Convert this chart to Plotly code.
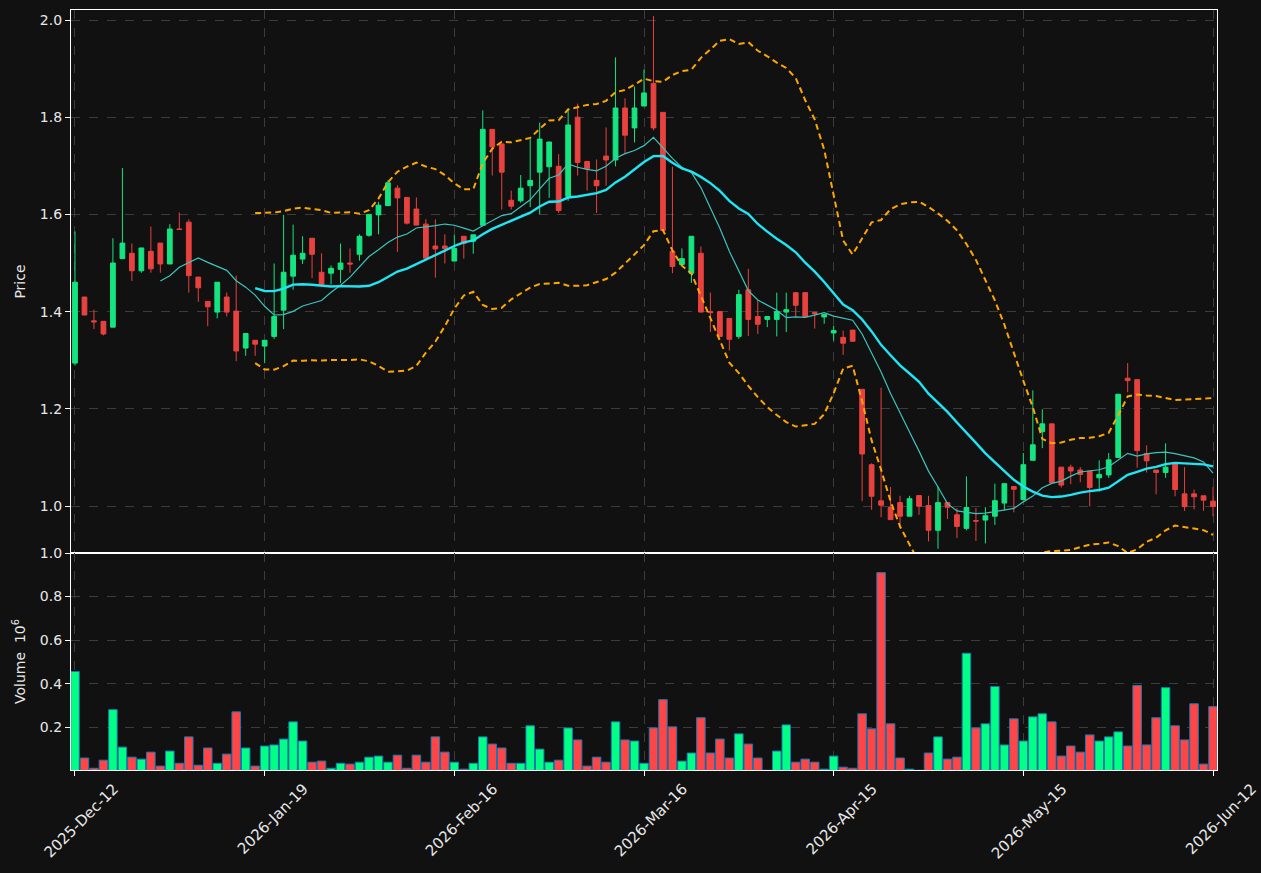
import pandas as pd
import plotly.graph_objects as go
from plotly.subplots import make_subplots

tick_labels = ["2025-Dec-12", "2026-Jan-19", "2026-Feb-16", "2026-Mar-16",
               "2026-Apr-15", "2026-May-15", "2026-Jun-12"]
tick_positions = [0, 20, 40, 60, 80, 100, 120]

opens = [1.294, 1.430, 1.381, 1.380, 1.368, 1.509, 1.520, 1.484, 1.524, 1.541,
         1.498, 1.570, 1.584, 1.471, 1.421, 1.399, 1.430, 1.401, 1.325, 1.341,
         1.329, 1.349, 1.403, 1.473, 1.508, 1.551, 1.481, 1.479, 1.487, 1.500,
         1.518, 1.557, 1.599, 1.618, 1.654, 1.635, 1.611, 1.580, 1.535, 1.535,
         1.504, 1.555, 1.545, 1.5775, 1.775, 1.745, 1.629, 1.628, 1.659, 1.687,
         1.698, 1.699, 1.637, 1.800, 1.709, 1.670, 1.720, 1.712, 1.819, 1.778,
         1.823, 1.8695, 1.810, 1.524, 1.497, 1.479, 1.520, 1.400, 1.400, 1.386,
         1.349, 1.445, 1.390, 1.384, 1.384, 1.399, 1.439, 1.439, 1.398, 1.389,
         1.356, 1.347, 1.362, 1.240, 1.085, 1.0106, 0.997, 1.007, 0.979, 1.0215,
         1.001, 0.950, 1.007, 0.982, 0.954, 0.970, 0.971, 0.979, 1.006, 1.040,
         1.013, 1.094, 1.153, 1.169, 1.080, 1.080, 1.074, 1.072, 1.058, 1.064,
         1.100, 1.263, 1.260, 1.108, 1.074, 1.069, 1.088, 1.025, 1.025, 1.021,
         1.010]
highs = [1.565, 1.430, 1.404, 1.380, 1.551, 1.6955, 1.540, 1.531, 1.575, 1.541,
         1.580, 1.604, 1.590, 1.471, 1.421, 1.4605, 1.439, 1.474, 1.355, 1.341,
         1.341, 1.499, 1.599, 1.579, 1.555, 1.551, 1.520, 1.495, 1.540, 1.530,
         1.559, 1.600, 1.626, 1.670, 1.660, 1.635, 1.635, 1.590, 1.590, 1.559,
         1.558, 1.555, 1.558, 1.814, 1.775, 1.745, 1.649, 1.681, 1.755, 1.789,
         1.749, 1.724, 1.818, 1.828, 1.709, 1.713, 1.779, 1.923, 1.839, 1.863,
         1.898, 2.008, 1.810, 1.698, 1.530, 1.555, 1.534, 1.439, 1.400, 1.386,
         1.445, 1.488, 1.424, 1.390, 1.439, 1.439, 1.439, 1.439, 1.400, 1.394,
         1.371, 1.361, 1.362, 1.240, 1.088, 1.2435, 1.039, 1.021, 1.021, 1.0215,
         1.021, 1.040, 1.007, 0.9955, 1.061, 0.996, 0.9975, 1.046, 1.046, 1.040,
         1.109, 1.238, 1.199, 1.169, 1.080, 1.085, 1.080, 1.072, 1.094, 1.109,
         1.230, 1.294, 1.260, 1.125, 1.074, 1.129, 1.088, 1.080, 1.034, 1.021,
         1.039]
lows = [1.289, 1.393, 1.364, 1.351, 1.368, 1.509, 1.463, 1.480, 1.480, 1.480,
        1.498, 1.568, 1.439, 1.420, 1.370, 1.386, 1.390, 1.298, 1.309, 1.309,
        1.294, 1.344, 1.364, 1.445, 1.498, 1.469, 1.456, 1.456, 1.459, 1.480,
        1.505, 1.554, 1.559, 1.618, 1.523, 1.579, 1.578, 1.510, 1.470, 1.499,
        1.504, 1.509, 1.519, 1.5775, 1.680, 1.610, 1.610, 1.624, 1.615, 1.600,
        1.634, 1.603, 1.628, 1.680, 1.649, 1.603, 1.659, 1.699, 1.724, 1.748,
        1.823, 1.773, 1.567, 1.479, 1.497, 1.459, 1.399, 1.358, 1.349, 1.320,
        1.344, 1.350, 1.354, 1.368, 1.349, 1.358, 1.390, 1.390, 1.365, 1.375,
        1.340, 1.311, 1.339, 1.010, 0.992, 0.977, 0.972, 0.954, 0.979, 0.982,
        0.927, 0.912, 0.973, 0.934, 0.950, 0.928, 0.923, 0.961, 0.991, 0.987,
        1.013, 1.094, 1.119, 1.048, 1.038, 1.045, 1.049, 0.999, 1.030, 1.058,
        1.100, 1.234, 1.079, 1.069, 1.024, 1.058, 1.020, 0.990, 0.993, 0.990,
        0.979]
closes = [1.4605, 1.393, 1.379, 1.354, 1.500, 1.541, 1.484, 1.531, 1.488, 1.498,
          1.570, 1.569, 1.474, 1.449, 1.410, 1.4605, 1.399, 1.319, 1.355, 1.333,
          1.341, 1.390, 1.481, 1.516, 1.520, 1.518, 1.456, 1.489, 1.500, 1.498,
          1.555, 1.600, 1.619, 1.665, 1.634, 1.582, 1.578, 1.510, 1.529, 1.530,
          1.530, 1.540, 1.558, 1.775, 1.739, 1.687, 1.617, 1.654, 1.670, 1.755,
          1.749, 1.608, 1.784, 1.707, 1.694, 1.659, 1.712, 1.819, 1.763, 1.819,
          1.850, 1.778, 1.567, 1.493, 1.509, 1.555, 1.399, 1.398, 1.349, 1.343,
          1.435, 1.384, 1.374, 1.390, 1.400, 1.404, 1.413, 1.390, 1.396, 1.394,
          1.361, 1.335, 1.339, 1.107, 1.020, 1.0016, 0.972, 0.979, 1.015, 0.9996,
          0.950, 1.007, 0.9975, 0.958, 0.997, 0.969, 0.980, 1.011, 1.046, 1.0345,
          1.085, 1.126, 1.169, 1.048, 1.043, 1.072, 1.065, 1.038, 1.065, 1.095,
          1.230, 1.258, 1.114, 1.093, 1.069, 1.080, 1.034, 0.9987, 1.019, 1.012,
          0.999]
volumes = [0.456, 0.059, 0.012, 0.049, 0.281, 0.109, 0.063, 0.054, 0.086, 0.022,
           0.091, 0.035, 0.156, 0.026, 0.105, 0.035, 0.077, 0.271, 0.105, 0.022,
           0.114, 0.119, 0.146, 0.225, 0.137, 0.040, 0.045, 0.012, 0.035, 0.031,
           0.040, 0.063, 0.068, 0.040, 0.072, 0.012, 0.072, 0.040, 0.156, 0.086,
           0.040, 0.008, 0.035, 0.156, 0.123, 0.105, 0.035, 0.035, 0.207, 0.100,
           0.040, 0.049, 0.197, 0.142, 0.022, 0.063, 0.040, 0.225, 0.142, 0.137,
           0.035, 0.197, 0.327, 0.202, 0.045, 0.082, 0.244, 0.082, 0.146, 0.059,
           0.170, 0.123, 0.059, 0.003, 0.091, 0.211, 0.040, 0.054, 0.040, 0.008,
           0.068, 0.017, 0.012, 0.262, 0.193, 0.910, 0.216, 0.059, 0.008, 0.003,
           0.082, 0.156, 0.054, 0.063, 0.540, 0.197, 0.216, 0.387, 0.119, 0.239,
           0.137, 0.248, 0.262, 0.225, 0.068, 0.114, 0.086, 0.165, 0.137, 0.156,
           0.179, 0.114, 0.392, 0.119, 0.244, 0.382, 0.207, 0.142, 0.308, 0.031,
           0.295]

idx = list(range(len(closes)))

UP_C = "#14e580"
DN_C = "#e8423f"
UP_V = "#00ff85"
DN_V = "#ff4545"

close_s = pd.Series(closes)
ma10 = close_s.rolling(10).mean()
ma20 = close_s.rolling(20).mean()
sd20 = close_s.rolling(20).std()
bb_up = ma20 + 2 * sd20
bb_dn = ma20 - 2 * sd20

vol_colors = [UP_V if c >= o else DN_V for o, c in zip(opens, closes)]

fig = make_subplots(rows=2, cols=1, shared_xaxes=True, vertical_spacing=0,
                    row_heights=[543 / 760, 217 / 760])

fig.add_trace(go.Candlestick(
    x=idx, open=opens, high=highs, low=lows, close=closes,
    increasing=dict(line=dict(color=UP_C, width=1), fillcolor=UP_C),
    decreasing=dict(line=dict(color=DN_C, width=1), fillcolor=DN_C),
    whiskerwidth=0, showlegend=False, hoverinfo="skip"), row=1, col=1)

fig.add_trace(go.Scatter(x=idx, y=bb_up, mode="lines",
                         line=dict(color="#ffa500", width=2, dash="6px,4px"),
                         showlegend=False), row=1, col=1)
fig.add_trace(go.Scatter(x=idx, y=bb_dn, mode="lines",
                         line=dict(color="#ffa500", width=2, dash="6px,4px"),
                         showlegend=False), row=1, col=1)
fig.add_trace(go.Scatter(x=idx, y=ma10, mode="lines",
                         line=dict(color="#3cc4bc", width=1.2),
                         showlegend=False), row=1, col=1)
fig.add_trace(go.Scatter(x=idx, y=ma20, mode="lines",
                         line=dict(color="#1fe6f5", width=2.4),
                         showlegend=False), row=1, col=1)

fig.add_trace(go.Bar(x=idx, y=volumes, width=0.9,
                     marker=dict(color=vol_colors, line=dict(color="#1f77b4", width=1)),
                     showlegend=False), row=2, col=1)

FONT = dict(family="DejaVu Sans", size=14, color="#e8e8e8")
XFONT = dict(family="DejaVu Sans", size=15, color="#e8e8e8")
GRID = "#3c3c3c"

axis_common = dict(showline=True, linecolor="white", linewidth=1.3, mirror=True,
                   showgrid=True, gridcolor=GRID, griddash="dash", gridwidth=1,
                   zeroline=False)

fig.update_xaxes(range=[-0.42, 120.42], tickvals=tick_positions, ticktext=tick_labels,
                 rangeslider=dict(visible=False), tickfont=XFONT, **axis_common)
fig.update_xaxes(showticklabels=False, ticks="", row=1, col=1)
fig.update_xaxes(ticks="outside", ticklen=5, tickcolor="white", tickangle=-45,
                 ticklabelshift=39, ticklabelstandoff=-2, row=2, col=1)

fig.update_yaxes(ticks="outside", ticklen=5, tickcolor="white", tickfont=FONT,
                 **axis_common)
fig.update_yaxes(range=[0.9033, 2.0206], tickvals=[1.0, 1.2, 1.4, 1.6, 1.8, 2.0],
                 ticktext=["1.0", "1.2", "1.4", "1.6", "1.8", "2.0"],
                 title=dict(text="Price", font=FONT, standoff=10), row=1, col=1)
fig.update_yaxes(range=[0.004, 1.0], tickvals=[0.2, 0.4, 0.6, 0.8, 1.0],
                 ticktext=["0.2", "0.4", "0.6", "0.8", "1.0"],
                 title=dict(text="Volume  10<sup>6</sup>", font=FONT, standoff=10),
                 row=2, col=1)

fig.update_layout(
    width=1261, height=873,
    margin=dict(l=71, r=44, t=10, b=103, autoexpand=False),
    paper_bgcolor="#111111", plot_bgcolor="#111111",
    boxgap=0.5, boxgroupgap=0, bargap=0.1,
    showlegend=False, font=FONT,
)

fig.write_html("out.html")
